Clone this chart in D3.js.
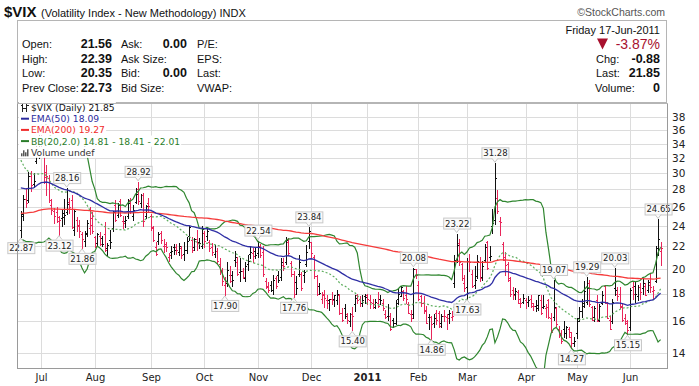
<!DOCTYPE html>
<html>
<head>
<meta charset="utf-8">
<script src="https://cdn.jsdelivr.net/npm/d3@7"></script>
<style>
  body { margin: 0; background: #fff; }
  svg { display: block; }
  .hdr { font-family: "Liberation Sans", Arial, sans-serif; fill: #111; }
  .small { font-family: "DejaVu Sans", Verdana, sans-serif; }
</style>
</head>
<body>
<svg id="chart"></svg>
<script>
// ---- data: daily bars, [day, open, high, low, close] ----
const jun2010 = [
  [21, 23.6, 25.6, 22.87, 25.2], [22, 25.0, 27.3, 24.6, 26.9], [23, 26.9, 28.2, 26.0, 26.4],
  [24, 26.8, 30.1, 26.6, 29.7], [25, 29.7, 30.3, 27.8, 28.5], [28, 28.7, 30.0, 28.3, 29.0],
  [29, 31.6, 35.0, 31.3, 34.1], [30, 33.8, 35.6, 32.0, 34.5]
];
const jul2010 = [
  [1, 34.6, 36.3, 32.4, 32.9], [2, 32.4, 33.3, 28.8, 30.1], [6, 29.5, 31.0, 27.3, 29.7],
  [7, 29.4, 29.8, 26.6, 26.8], [8, 26.2, 26.9, 25.2, 25.7], [9, 25.6, 25.9, 24.3, 25.0],
  [12, 25.4, 26.0, 24.4, 24.9], [13, 24.5, 25.0, 23.12, 24.6], [14, 24.8, 25.7, 24.0, 24.9],
  [15, 25.3, 26.9, 24.2, 25.1], [16, 25.4, 28.16, 25.2, 26.3], [19, 26.6, 27.0, 25.3, 26.0],
  [20, 26.8, 27.4, 23.8, 23.9], [21, 23.6, 25.8, 23.1, 25.6], [22, 24.6, 24.9, 23.5, 24.1],
  [23, 24.0, 24.6, 22.9, 23.5], [26, 23.2, 23.4, 21.86, 22.7], [27, 22.5, 23.5, 22.0, 23.2],
  [28, 23.3, 24.6, 23.0, 24.3], [29, 23.8, 26.0, 23.2, 24.1], [30, 24.8, 25.4, 23.3, 23.5]
];
const aug2010 = [
  [2, 22.9, 23.0, 21.9, 22.0], [3, 22.3, 23.3, 22.0, 23.2], [4, 23.0, 23.4, 22.1, 22.2],
  [5, 22.8, 23.0, 22.0, 22.2], [6, 23.2, 24.4, 21.6, 21.7], [9, 21.8, 22.3, 21.2, 22.1],
  [10, 22.6, 23.6, 21.8, 22.4], [11, 23.8, 25.6, 23.5, 25.4], [12, 26.2, 26.8, 24.5, 24.6],
  [13, 25.1, 26.4, 24.9, 26.2], [16, 26.7, 26.9, 25.0, 25.1], [17, 24.5, 25.0, 23.8, 24.3],
  [18, 24.5, 25.0, 23.9, 24.6], [19, 25.0, 26.9, 24.8, 26.4], [20, 26.8, 27.0, 25.3, 25.5],
  [23, 25.0, 26.2, 24.6, 25.7], [24, 26.6, 28.2, 26.4, 27.5], [25, 28.0, 28.92, 26.3, 26.7],
  [26, 26.4, 27.5, 26.0, 27.4], [27, 27.4, 27.6, 24.0, 24.5], [30, 25.0, 26.2, 24.8, 26.1],
  [31, 26.4, 27.0, 25.5, 26.05]
];
const sep2010 = [
  [1, 25.0, 25.2, 23.6, 23.9], [2, 23.8, 24.0, 22.5, 22.6], [3, 21.9, 22.4, 21.2, 21.3],
  [7, 22.5, 23.4, 22.2, 23.2], [8, 23.3, 23.5, 22.3, 22.6], [9, 22.0, 22.7, 21.5, 22.0],
  [10, 22.2, 22.4, 21.6, 21.95], [13, 21.0, 21.4, 20.7, 21.2], [14, 21.5, 22.0, 20.9, 21.6],
  [15, 21.9, 22.2, 21.3, 21.7], [16, 21.9, 22.2, 21.3, 21.65], [17, 21.5, 22.3, 21.2, 22.0],
  [20, 21.8, 22.0, 20.9, 21.2], [21, 21.3, 22.4, 20.8, 21.7], [22, 21.7, 22.9, 21.4, 22.5],
  [23, 23.0, 24.0, 22.6, 23.9], [24, 22.6, 22.9, 21.5, 21.7], [27, 21.9, 22.8, 21.7, 22.7],
  [28, 22.7, 23.6, 21.7, 22.3], [29, 22.4, 22.8, 21.8, 22.35], [30, 22.0, 24.0, 21.8, 23.7]
];
const oct2010 = [
  [1, 23.3, 23.5, 21.9, 22.5], [4, 23.0, 23.9, 22.6, 23.5], [5, 22.4, 22.6, 21.6, 21.8],
  [6, 21.9, 22.3, 21.2, 21.5], [7, 21.3, 22.1, 21.0, 21.6], [8, 21.6, 21.8, 20.5, 20.7],
  [11, 20.4, 20.9, 19.6, 19.9], [12, 19.9, 20.1, 18.7, 19.0], [13, 18.7, 19.3, 17.90, 18.8],
  [14, 18.8, 20.6, 18.6, 19.9], [15, 19.5, 20.2, 18.9, 19.0], [18, 19.5, 19.8, 18.6, 19.1],
  [19, 20.8, 21.6, 20.2, 21.0], [20, 20.6, 21.0, 19.5, 19.6], [21, 19.7, 20.9, 19.0, 19.8],
  [22, 19.8, 20.1, 19.2, 19.3], [25, 19.2, 20.6, 19.0, 20.2], [26, 20.4, 21.2, 19.9, 20.7],
  [27, 21.3, 22.0, 20.9, 21.5], [28, 21.4, 21.8, 20.6, 21.15], [29, 21.6, 21.8, 20.9, 21.2]
];
const nov2010 = [
  [1, 21.4, 22.54, 21.0, 22.0], [2, 22.0, 22.2, 21.0, 21.2], [3, 21.5, 22.0, 19.4, 19.6],
  [4, 19.0, 19.2, 18.4, 18.5], [5, 18.6, 18.9, 18.1, 18.25], [8, 18.7, 19.0, 18.2, 18.3],
  [9, 18.3, 19.5, 18.0, 19.1], [10, 19.2, 19.4, 18.4, 18.6], [11, 19.5, 19.8, 18.9, 19.1],
  [12, 19.3, 20.9, 19.1, 20.6], [15, 20.3, 20.9, 19.9, 20.2], [16, 20.6, 22.9, 20.4, 22.6],
  [17, 22.4, 22.8, 21.2, 21.4], [18, 20.5, 20.7, 19.4, 19.6], [19, 19.6, 19.8, 17.76, 18.0],
  [22, 18.9, 19.4, 18.0, 18.4], [23, 19.6, 21.2, 19.4, 20.6], [24, 19.6, 19.7, 18.3, 18.4],
  [26, 19.5, 19.9, 18.9, 19.7], [29, 20.4, 22.1, 20.2, 21.5], [30, 22.5, 23.84, 21.8, 23.5]
];
const dec2010 = [
  [1, 22.4, 22.4, 21.0, 21.4], [2, 21.0, 21.2, 19.2, 19.4], [3, 19.4, 19.5, 17.9, 18.0],
  [6, 18.6, 18.8, 18.0, 18.05], [7, 17.6, 18.1, 17.3, 17.95], [8, 17.9, 18.3, 17.0, 17.7],
  [9, 17.5, 17.9, 16.9, 17.3], [10, 17.5, 17.6, 16.8, 17.6], [13, 17.6, 18.1, 17.2, 17.5],
  [14, 17.6, 17.9, 17.1, 17.9], [15, 17.5, 18.3, 17.2, 17.95], [16, 17.9, 18.0, 16.5, 16.6],
  [17, 16.6, 16.9, 16.0, 16.1], [20, 16.9, 17.2, 16.2, 16.4], [21, 16.5, 16.6, 15.9, 16.1],
  [22, 16.0, 16.6, 15.7, 16.5], [23, 16.5, 17.0, 15.40, 16.4], [27, 17.2, 17.9, 16.7, 17.7],
  [28, 17.9, 18.0, 17.3, 17.5], [29, 17.6, 17.8, 17.1, 17.3], [30, 17.3, 17.9, 17.1, 17.5],
  [31, 17.8, 18.0, 17.3, 17.75]
];
const jan2011 = [
  [3, 17.9, 18.0, 17.2, 17.6], [4, 17.5, 17.9, 16.9, 17.4], [5, 17.3, 17.6, 16.9, 17.0],
  [6, 17.0, 17.6, 16.9, 17.4], [7, 17.3, 18.1, 17.0, 17.1], [10, 17.6, 17.9, 17.2, 17.5],
  [11, 17.3, 17.6, 16.8, 16.9], [12, 16.5, 16.8, 16.2, 16.3], [13, 16.4, 17.2, 16.1, 16.4],
  [14, 16.4, 16.6, 15.4, 15.5], [18, 16.1, 16.2, 15.6, 15.9], [19, 15.9, 17.5, 15.8, 17.3],
  [20, 17.6, 18.4, 17.2, 18.0], [21, 17.8, 18.6, 17.8, 18.5], [24, 18.2, 18.3, 17.5, 17.7],
  [25, 17.9, 18.6, 17.3, 17.6], [26, 17.2, 17.4, 16.6, 16.6], [27, 16.5, 16.8, 16.0, 16.2],
  [28, 16.5, 20.08, 16.2, 20.0], [31, 20.0, 20.0, 19.2, 19.5]
];
const feb2011 = [
  [1, 18.7, 19.0, 17.5, 17.6], [2, 17.8, 17.9, 17.1, 17.3], [3, 17.3, 17.8, 16.6, 16.7],
  [4, 16.8, 17.1, 15.9, 15.9], [7, 16.3, 16.5, 15.5, 16.3], [8, 16.3, 16.4, 14.86, 15.8],
  [9, 15.9, 16.5, 15.6, 16.2], [10, 16.6, 16.8, 15.8, 16.1], [11, 16.6, 16.7, 15.6, 15.7],
  [14, 15.9, 16.5, 15.6, 16.4], [15, 16.4, 16.8, 16.0, 16.35], [16, 16.3, 16.5, 15.5, 16.2],
  [17, 16.5, 16.8, 15.9, 16.6], [18, 16.3, 16.7, 16.1, 16.4], [22, 18.8, 21.2, 18.5, 20.8],
  [23, 20.8, 23.22, 20.6, 22.1], [24, 22.3, 22.7, 20.3, 20.6], [25, 20.4, 20.5, 19.1, 19.2],
  [28, 18.8, 19.5, 18.2, 18.4]
];
const mar2011 = [
  [1, 18.5, 20.9, 17.63, 20.7], [2, 20.7, 21.3, 19.8, 20.6], [3, 19.6, 19.9, 18.5, 18.6],
  [4, 18.7, 20.2, 18.4, 19.1], [7, 19.4, 21.2, 19.2, 20.7], [8, 20.6, 21.0, 19.0, 19.2],
  [9, 19.3, 20.7, 19.1, 20.2], [10, 20.8, 22.2, 20.6, 21.9], [11, 22.4, 22.5, 20.0, 20.1],
  [14, 21.0, 22.0, 20.8, 21.1], [15, 24.0, 25.8, 23.3, 24.3], [16, 24.6, 31.28, 24.2, 29.4],
  [17, 27.0, 27.9, 25.3, 25.5], [18, 24.5, 24.9, 23.1, 24.4], [21, 22.2, 22.4, 20.8, 21.0],
  [22, 20.8, 21.5, 19.5, 20.3], [23, 20.4, 20.6, 19.0, 19.2], [24, 19.1, 19.3, 17.8, 18.0],
  [25, 18.3, 18.5, 17.6, 17.9], [28, 18.0, 18.4, 17.6, 18.2], [29, 18.1, 18.3, 17.3, 17.6],
  [30, 17.3, 17.7, 17.0, 17.3], [31, 17.4, 18.0, 17.3, 17.7]
];
const apr2011 = [
  [1, 17.5, 17.7, 16.9, 17.4], [4, 17.4, 17.8, 17.1, 17.5], [5, 17.6, 17.9, 17.0, 17.3],
  [6, 17.1, 17.3, 16.8, 17.1], [7, 17.1, 17.5, 16.7, 17.15], [8, 16.9, 17.9, 16.8, 17.9],
  [11, 17.5, 17.9, 16.5, 16.6], [12, 17.0, 17.9, 16.9, 17.1], [13, 16.9, 17.2, 16.3, 17.0],
  [14, 17.5, 17.6, 16.2, 16.3], [15, 16.2, 16.6, 15.3, 15.3], [18, 16.3, 19.07, 16.1, 17.0],
  [19, 16.9, 17.0, 15.7, 15.8], [20, 15.5, 15.7, 15.0, 15.1], [21, 15.2, 15.4, 14.6, 14.7],
  [25, 15.5, 16.0, 15.0, 15.2], [26, 15.2, 15.7, 14.9, 15.6], [27, 15.5, 15.6, 15.0, 15.3],
  [28, 15.0, 15.3, 14.27, 14.6], [29, 14.6, 15.0, 14.4, 14.75]
];
const may2011 = [
  [2, 15.2, 16.2, 14.9, 16.0], [3, 16.2, 17.0, 16.0, 16.7], [4, 16.7, 17.6, 16.3, 17.1],
  [5, 17.3, 19.0, 17.0, 18.2], [6, 17.4, 19.29, 17.2, 18.4], [9, 18.8, 19.1, 17.1, 17.2],
  [10, 17.0, 17.1, 16.1, 16.1], [11, 16.3, 17.1, 16.0, 16.95], [12, 17.5, 17.9, 16.0, 16.0],
  [13, 16.1, 17.2, 16.0, 17.1], [16, 17.3, 18.2, 17.2, 17.9], [17, 18.6, 18.7, 17.3, 17.3],
  [18, 17.3, 17.4, 16.2, 16.2], [19, 16.1, 16.4, 15.5, 15.5], [20, 16.0, 17.6, 15.9, 17.4],
  [23, 18.4, 20.03, 17.9, 18.3], [24, 18.0, 18.5, 17.5, 17.8], [25, 18.0, 18.5, 16.9, 17.1],
  [26, 17.0, 17.2, 16.0, 16.1], [27, 16.2, 16.5, 15.8, 16.0], [31, 15.9, 16.1, 15.15, 15.45]
];
const jun2011 = [
  [1, 15.6, 18.4, 15.4, 18.3], [2, 18.5, 19.0, 17.6, 17.95], [3, 18.6, 18.9, 17.4, 17.95],
  [6, 17.8, 18.7, 17.5, 18.5], [7, 18.5, 18.8, 17.6, 18.1], [8, 18.4, 19.3, 18.0, 18.8],
  [9, 18.6, 18.8, 17.9, 17.9], [10, 18.3, 19.1, 18.1, 18.9], [13, 18.7, 19.6, 18.1, 18.5],
  [14, 18.2, 18.6, 17.6, 18.3], [15, 19.0, 22.0, 18.9, 21.3], [16, 21.8, 24.65, 21.2, 22.73],
  [17, 21.56, 22.39, 20.35, 21.85]
];

// closes before the first bar (for the 20-day bands) and indicator values the day before it
const priorCloses = [40.1, 38.3, 34.6, 35.2, 29.7, 32.1, 35.5, 32.1, 29.5, 35.5, 36.9, 33.7,
  34.6, 28.3, 28.8, 28.6, 25.8, 25.7, 24.0];
const ema50Seed = 28.3;
const ema200Seed = 25.3;

const yTicks = [14, 16, 18, 20, 22, 24, 26, 28, 30, 32, 34, 36, 38];
const monthTicks = [
  ["2010-07-01", "Jul"], ["2010-08-02", "Aug"], ["2010-09-01", "Sep"], ["2010-10-01", "Oct"],
  ["2010-11-01", "Nov"], ["2010-12-01", "Dec"], ["2011-01-03", "2011"], ["2011-02-01", "Feb"],
  ["2011-03-01", "Mar"], ["2011-04-01", "Apr"], ["2011-05-02", "May"], ["2011-06-01", "Jun"]
];
const callouts = [
  ["2010-06-21", 22.87, "low"], ["2010-07-13", 23.12, "low"], ["2010-07-16", 28.16, "high"],
  ["2010-07-26", 21.86, "low"], ["2010-08-25", 28.92, "high"], ["2010-10-13", 17.90, "low"],
  ["2010-11-01", 22.54, "high"], ["2010-11-19", 17.76, "low"], ["2010-11-30", 23.84, "high"],
  ["2010-12-23", 15.40, "low"], ["2011-01-28", 20.08, "high"], ["2011-02-08", 14.86, "low"],
  ["2011-02-23", 23.22, "high"], ["2011-03-01", 17.63, "low"], ["2011-03-16", 31.28, "high"],
  ["2011-04-18", 19.07, "high"], ["2011-04-28", 14.27, "low"], ["2011-05-06", 19.29, "high"],
  ["2011-05-23", 20.03, "high"], ["2011-05-31", 15.15, "low"], ["2011-06-16", 24.65, "high"]
];

// header quote table
const quoteLeft = [
  ["Open:", "21.56", "Ask:", "0.00", "P/E:"],
  ["High:", "22.39", "Ask Size:", "", "EPS:"],
  ["Low:", "20.35", "Bid:", "0.00", "Last:"],
  ["Prev Close:", "22.73", "Bid Size:", "", "VWAP:"]
];
const quoteRight = [["Chg:", "-0.88"], ["Last:", "21.85"], ["Volume:", "0"]];
const legendRows = [
  { text: "$VIX (Daily) 21.85", color: "#111", icon: "ohlc" },
  { text: "EMA(50) 18.09", color: "#2b2b9e", icon: "line" },
  { text: "EMA(200) 19.27", color: "#f02a2a", icon: "line" },
  { text: "BB(20,2.0) 14.81 - 18.41 - 22.01", color: "#2a7d2a", icon: "line" },
  { text: "Volume undef", color: "#333", icon: "vol" }
];

const months = [
  ["2010-06", jun2010], ["2010-07", jul2010], ["2010-08", aug2010], ["2010-09", sep2010],
  ["2010-10", oct2010], ["2010-11", nov2010], ["2010-12", dec2010], ["2011-01", jan2011],
  ["2011-02", feb2011], ["2011-03", mar2011], ["2011-04", apr2011], ["2011-05", may2011],
  ["2011-06", jun2011]
];

class OhlcChart {
  constructor(_config, _bars) {
    this.config = {
      parentElement: _config.parentElement,
      containerWidth: _config.containerWidth || 699,
      containerHeight: _config.containerHeight || 386,
      plot: _config.plot || { left: 17, right: 667, top: 103, bottom: 368 }
    };
    this.bars = _bars;
    this.initVis();
  }

  initVis() {
    let vis = this;
    const p = vis.config.plot;

    vis.svg = d3.select(vis.config.parentElement)
      .attr("width", vis.config.containerWidth)
      .attr("height", vis.config.containerHeight);

    // trading-day index on x, log price on y
    vis.xScale = d3.scaleLinear().domain([-1.5, vis.bars.length + 1.5]).range([p.left, p.right]);
    vis.yScale = d3.scaleLog().domain([13.13, 40.4]).range([p.bottom, p.top]);

    vis.indexOf = new Map(vis.bars.map((d, i) => [d.date, i]));
  }

  updateVis() {
    let vis = this;
    const closes = vis.bars.map(d => d.close);

    // EMA
    const ema = (n, seed) => {
      const k = 2 / (n + 1);
      let prev = seed;
      return closes.map(c => (prev = prev + k * (c - prev)));
    };
    vis.ema50 = ema(50, ema50Seed);
    vis.ema200 = ema(200, ema200Seed);

    // Bollinger bands (20, 2)
    const all = priorCloses.concat(closes);
    const off = priorCloses.length;
    vis.bb = closes.map((c, i) => {
      const win = all.slice(i + off - 19, i + off + 1);
      const m = d3.mean(win);
      const sd = Math.sqrt(d3.mean(win, v => (v - m) * (v - m)));
      return { mid: m, up: m + 2 * sd, lo: m - 2 * sd };
    });

    vis.bars.forEach((d, i) => {
      const prevClose = i === 0 ? priorCloses[priorCloses.length - 1] : vis.bars[i - 1].close;
      d.up = d.close >= prevClose;
    });

    vis.renderVis();
  }

  renderVis() {
    let vis = this;
    const p = vis.config.plot;
    const x = i => Math.round(vis.xScale(i)) + 0.5;
    const y = vis.yScale;

    vis.renderHeader();

    // clip
    vis.svg.append("clipPath").attr("id", "plotclip")
      .append("rect").attr("x", p.left).attr("y", p.top)
      .attr("width", p.right - p.left).attr("height", p.bottom - p.top);

    // grid
    const grid = vis.svg.append("g").attr("shape-rendering", "crispEdges");
    grid.selectAll(".hg").data(yTicks).join("line")
      .attr("x1", p.left).attr("x2", p.right)
      .attr("y1", d => Math.round(y(d)) + 0.5).attr("y2", d => Math.round(y(d)) + 0.5)
      .attr("stroke", "#dcdcdc");
    grid.selectAll(".vg").data(monthTicks).join("line")
      .attr("x1", d => x(vis.indexOf.get(d[0]))).attr("x2", d => x(vis.indexOf.get(d[0])))
      .attr("y1", p.top).attr("y2", p.bottom)
      .attr("stroke", "#dcdcdc");

    const plot = vis.svg.append("g").attr("clip-path", "url(#plotclip)");

    // price bars
    const barG = plot.append("g").attr("shape-rendering", "crispEdges");
    const bar = barG.selectAll("g.bar").data(vis.bars).join("g")
      .attr("stroke", d => d.up ? "#111" : "#e8265a");
    bar.append("line")
      .attr("x1", (d, i) => x(i)).attr("x2", (d, i) => x(i))
      .attr("y1", d => y(d.high)).attr("y2", d => y(d.low) + 1);
    bar.append("line")
      .attr("x1", (d, i) => x(i) - 1.5).attr("x2", (d, i) => x(i))
      .attr("y1", d => Math.round(y(d.open)) + 0.5).attr("y2", d => Math.round(y(d.open)) + 0.5);
    bar.append("line")
      .attr("x1", (d, i) => x(i)).attr("x2", (d, i) => x(i) + 1.5)
      .attr("y1", d => Math.round(y(d.close)) + 0.5).attr("y2", d => Math.round(y(d.close)) + 0.5);

    // overlays
    const line = acc => d3.line().x((d, i) => vis.xScale(i)).y(d => y(acc(d)));
    plot.append("path").datum(vis.bb).attr("d", line(d => d.up))
      .attr("fill", "none").attr("stroke", "#2f862f").attr("stroke-width", 1.2);
    plot.append("path").datum(vis.bb).attr("d", line(d => d.lo))
      .attr("fill", "none").attr("stroke", "#2f862f").attr("stroke-width", 1.2);
    plot.append("path").datum(vis.bb).attr("d", line(d => d.mid))
      .attr("fill", "none").attr("stroke", "#5fae5f").attr("stroke-width", 1.2)
      .attr("stroke-dasharray", "2,2");
    plot.append("path").datum(vis.ema200).attr("d", line(d => d))
      .attr("fill", "none").attr("stroke", "#f53b3b").attr("stroke-width", 1.3);
    plot.append("path").datum(vis.ema50).attr("d", line(d => d))
      .attr("fill", "none").attr("stroke", "#2f2fa5").attr("stroke-width", 1.3);

    // legend
    const lg = vis.svg.append("g").attr("class", "small");
    legendRows.forEach((r, i) => {
      const cy = 107.5 + i * 11.2;
      const t = lg.append("text").attr("x", 31).attr("y", cy)
        .attr("dominant-baseline", "central").attr("font-size", 9.2)
        .attr("fill", r.color).text(r.text);
      const bb = t.node().getBBox();
      lg.insert("rect", "text").attr("x", 19).attr("y", cy - 5.6)
        .attr("width", bb.x + bb.width - 19 + 1).attr("height", 11.2).attr("fill", "#fff");
      if (r.icon === "line") {
        lg.append("line").attr("x1", 21).attr("x2", 29).attr("y1", cy).attr("y2", cy)
          .attr("stroke", r.color).attr("stroke-width", 2);
      } else if (r.icon === "ohlc") {
        [22, 26].forEach((ix, k) => {
          lg.append("path").attr("d", `M${ix + 0.5},${cy - 4}V${cy + 4}M${ix - 1},${cy - 2 + k * 3}H${ix}M${ix + 1},${cy + 1 - k * 3}H${ix + 2.5}`)
            .attr("stroke", "#222").attr("fill", "none").attr("shape-rendering", "crispEdges");
        });
      } else {
        [[21, 3], [23, 6], [25, 4], [27, 7]].forEach(([ix, hgt]) => {
          lg.append("rect").attr("x", ix).attr("y", cy + 4 - hgt).attr("width", 1.5).attr("height", hgt)
            .attr("fill", "#555");
        });
      }
    });

    // high / low callouts (not clipped: they may hang over the frame)
    const co = vis.svg.append("g").attr("class", "small");
    callouts.forEach(([date, val, side]) => {
      const cx = vis.xScale(vis.indexOf.get(date));
      const vy = y(val);
      const label = val.toFixed(2);
      const w = 27, h = 11;
      const bx = Math.max(3, cx - w / 2);
      const by = side === "high" ? vy - 5 - h : vy + 5;
      const g = co.append("g");
      const tip = side === "high"
        ? [[cx - 3, by + h], [cx, vy - 1], [cx + 3, by + h]]
        : [[cx - 3, by], [cx, vy + 1], [cx + 3, by]];
      g.append("rect").attr("x", bx + 0.5).attr("y", by + 0.5).attr("width", w).attr("height", h)
        .attr("fill", "#fafafa").attr("stroke", "#c8c8c8");
      g.append("path").attr("d", d3.line()(tip)).attr("fill", "#fafafa").attr("stroke", "#c8c8c8");
      g.append("text").attr("x", bx + w / 2 + 0.5).attr("y", by + h / 2 + 0.5)
        .attr("text-anchor", "middle").attr("dominant-baseline", "central")
        .attr("font-size", 8.5).attr("fill", "#222").text(label);
    });

    // axes: plot frame, right price labels, month labels
    const frame = vis.svg.append("g").attr("shape-rendering", "crispEdges");
    frame.append("line").attr("x1", p.left + 0.5).attr("x2", p.left + 0.5)
      .attr("y1", p.top).attr("y2", p.bottom).attr("stroke", "#9a9a9a");
    frame.append("line").attr("x1", p.right + 0.5).attr("x2", p.right + 0.5)
      .attr("y1", p.top).attr("y2", p.bottom).attr("stroke", "#9a9a9a");
    frame.append("line").attr("x1", p.left).attr("x2", p.right + 1)
      .attr("y1", p.bottom + 0.5).attr("y2", p.bottom + 0.5).attr("stroke", "#9a9a9a");
    frame.append("line").attr("x1", p.left).attr("x2", p.right + 1)
      .attr("y1", p.top + 0.5).attr("y2", p.top + 0.5).attr("stroke", "#b5b5b5");

    const yAxis = d3.axisRight(y).tickValues(yTicks).tickSize(0).tickPadding(5)
      .tickFormat(d3.format("d"));
    vis.svg.append("g").attr("transform", `translate(${p.right},0)`).call(yAxis)
      .call(g => g.select(".domain").remove())
      .call(g => g.selectAll("text").attr("font-family", "DejaVu Sans, Verdana, sans-serif")
        .attr("font-size", 10.5).attr("fill", "#222"));

    vis.svg.append("g").selectAll("text").data(monthTicks).join("text")
      .attr("class", "small")
      .attr("x", d => x(vis.indexOf.get(d[0])))
      .attr("y", 377.5).attr("text-anchor", "middle").attr("dominant-baseline", "central")
      .attr("font-size", 10).attr("fill", "#222")
      .attr("font-weight", d => d[1] === "2011" ? "bold" : "normal")
      .text(d => d[1]);
  }

  renderHeader() {
    let vis = this;
    const h = vis.svg.append("g").attr("class", "hdr");

    h.append("text").attr("x", 4).attr("y", 17).attr("font-size", 15).attr("font-weight", "bold")
      .text("$VIX");
    h.append("text").attr("x", 41).attr("y", 17).attr("font-size", 11)
      .text("(Volatility Index - New Methodology) INDX");
    h.append("text").attr("x", 665).attr("y", 16).attr("text-anchor", "end")
      .attr("font-size", 10.5).attr("fill", "#555").text("\u00a9StockCharts.com");

    h.append("rect").attr("x", 17.5).attr("y", 20.5).attr("width", 649).attr("height", 82)
      .attr("fill", "none").attr("stroke", "#b5b5b5");

    const rowY = [44, 58.5, 73, 87.5];
    const colX = [22, 112, 121, 187, 197];
    quoteLeft.forEach((row, r) => {
      row.forEach((txt, c) => {
        const bold = c === 1 || c === 3;
        h.append("text").attr("x", colX[c]).attr("y", rowY[r])
          .attr("dominant-baseline", "central")
          .attr("text-anchor", bold ? "end" : "start")
          .attr("font-size", bold ? 12.5 : 11).attr("font-weight", bold ? "bold" : "normal")
          .text(txt);
      });
    });

    h.append("text").attr("x", 660).attr("y", 29.5).attr("text-anchor", "end")
      .attr("dominant-baseline", "central").attr("font-size", 11).text("Friday  17-Jun-2011");
    h.append("text").attr("x", 660).attr("y", 44).attr("text-anchor", "end")
      .attr("dominant-baseline", "central").attr("font-size", 14).attr("fill", "#a8102e")
      .text("-3.87%");
    h.append("path").attr("d", "M597,38.5h11l-5.5,11z").attr("fill", "#a8102e");
    quoteRight.forEach(([lab, val], r) => {
      const yy = rowY[r + 1];
      h.append("text").attr("x", lab === "Volume:" ? 595 : 596).attr("y", yy)
        .attr("dominant-baseline", "central").attr("font-size", 11).text(lab);
      h.append("text").attr("x", 660).attr("y", yy).attr("text-anchor", "end")
        .attr("dominant-baseline", "central").attr("font-size", 12.5).attr("font-weight", "bold")
        .text(val);
    });
  }
}

const bars = months.flatMap(([ym, rows]) => rows.map(([day, o, h, l, c]) => ({
  date: `${ym}-${String(day).padStart(2, "0")}`, open: o, high: h, low: l, close: c
})));

const chart = new OhlcChart({ parentElement: "#chart" }, bars);
chart.updateVis();
</script>
</body>
</html>
